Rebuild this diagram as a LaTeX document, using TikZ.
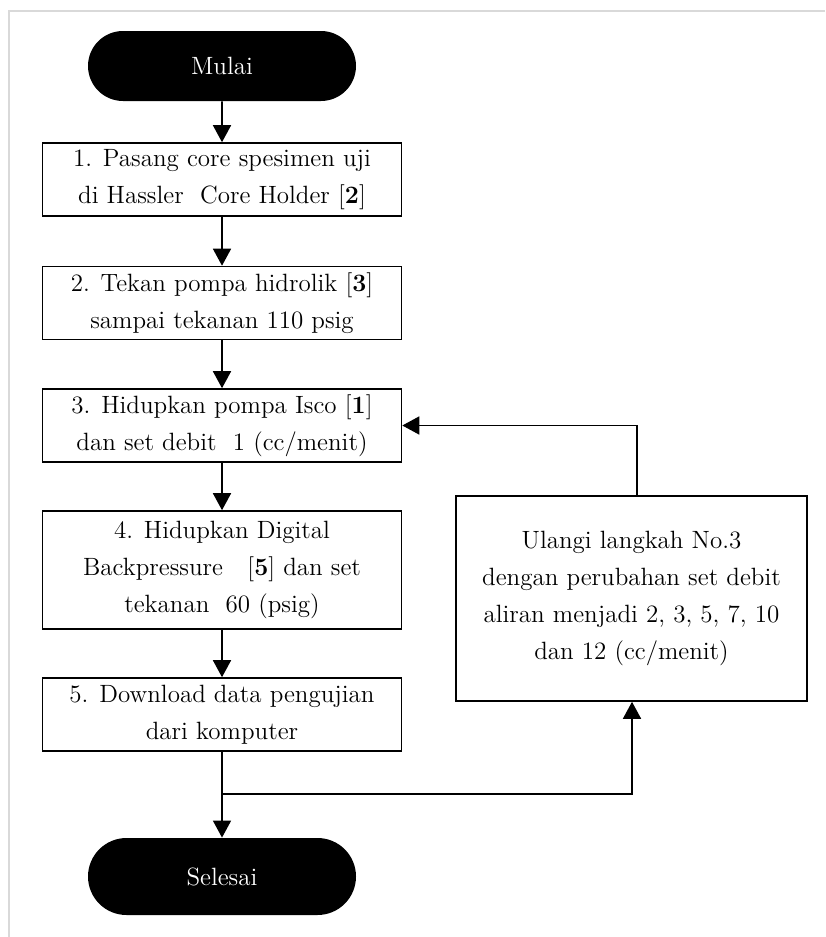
\documentclass[tikz,border=0pt]{standalone}
\usetikzlibrary{arrows.meta,shapes.misc}
\begin{document}
\begin{tikzpicture}[x=0.5pt,y=-0.5pt,
  every node/.style={font=\fontsize{12.5}{18.5}\selectfont,align=center,inner sep=0pt},
  terminal/.style={rounded rectangle,fill=black,text=white,minimum width=134pt,minimum height=35pt},
  stepbox/.style={draw,line width=0.8pt,minimum width=179.5pt,minimum height=36.5pt},
  loopbox/.style={draw,line width=0.8pt,minimum width=175.5pt,minimum height=102.5pt}]
  \useasboundingbox (0,0) rectangle (825,937);
  % grey frame
  \draw[line width=1pt,black!15] (9,937) -- (9,10.5) -- (825,10.5);
  \node[terminal] (mulai) at (222,66) {Mulai};
  \node[stepbox] (s1) at (222,179.5) {1. Pasang core spesimen uji\\di Hassler\ \ Core Holder [\textbf{2}]};
  \node[stepbox] (s2) at (222,303) {2. Tekan pompa hidrolik [\textbf{3}]\\sampai tekanan 110 psig};
  \node[stepbox] (s3) at (222,425.5) {3. Hidupkan pompa Isco [\textbf{1}]\\dan set debit\ \ 1 (cc/menit)};
  \node[stepbox,minimum height=59pt] (s4) at (222,570) {4. Hidupkan Digital\\Backpressure\ \ \ [\textbf{5}] dan set\\tekanan\ \ 60 (psig)};
  \node[stepbox] (s5) at (222,714.5) {5. Download data pengujian\\dari komputer};
  \node[terminal,minimum height=38.5pt] (selesai) at (222,876.5) {Selesai};
  \node[loopbox] (ulangi) at (631.5,598.5) {Ulangi langkah No.3\\dengan perubahan set debit\\aliran menjadi 2, 3, 5, 7, 10\\dan 12 (cc/menit)};
  \coordinate (back) at (637,425.5);
  \coordinate (fork) at (222,794);
  \coordinate (up) at (632,794);
  \begin{scope}[every edge/.style={draw=black,line width=0.8pt,-{Triangle[length=8.5pt,width=9pt]}}]
  \path (mulai) edge (s1);
  \path (s1) edge (s2);
  \path (s2) edge (s3);
  \path (s3) edge (s4);
  \path (s4) edge (s5);
  \path (s5) edge (selesai);
  \end{scope}
  \draw[line width=0.8pt,-{Triangle[length=8.5pt,width=9pt]}] (back |- ulangi.north) -- (back) -- (s3.east);
  \draw[line width=0.8pt,-{Triangle[length=8.5pt,width=9pt]}] (fork) -- (up) -- (up |- ulangi.south);
\end{tikzpicture}
\end{document}
